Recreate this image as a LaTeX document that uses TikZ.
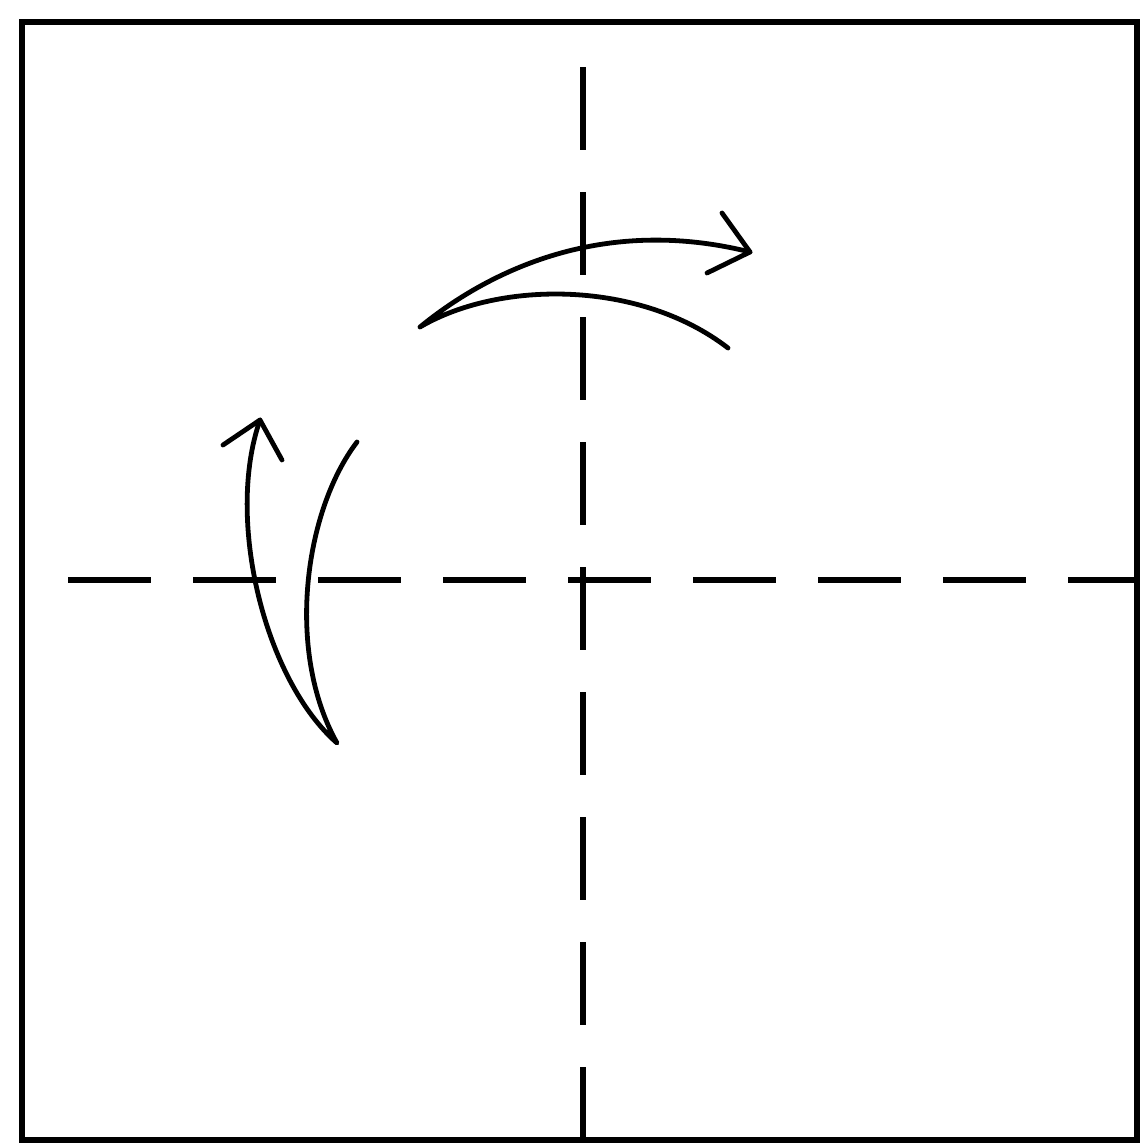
\documentclass[tikz,border=0pt]{standalone}
\begin{document}
\begin{tikzpicture}[x=0.5pt,y=-0.5pt,
  edge/.style={line width=2.8pt},
  fold/.style={line width=2.6pt, dash pattern=on 41.5pt off 21pt},
  arr/.style={line width=2.4pt, line cap=round, line join=round}]
\useasboundingbox (0,0) rectangle (1142,1147);
% paper
\draw[edge] (22,22) rectangle (1137,1140);
% fold lines
\draw[fold] (583,67) -- (583,1140);
\draw[fold] (68,580) -- (1137,580);
% top arrow
\draw[arr] (728,348) .. controls (640,280) and (500,280) .. (420,327)
  .. controls (475,282) and (590,212) .. (750,252);
\draw[arr] (722,213) -- (750,252) -- (707,273);
% left arrow
\draw[arr] (357,442) .. controls (305,510) and (285,650) .. (337,743)
  .. controls (265,680) and (225,520) .. (260,420);
\draw[arr] (223,445) -- (260,420) -- (282,460);
\end{tikzpicture}
\end{document}
